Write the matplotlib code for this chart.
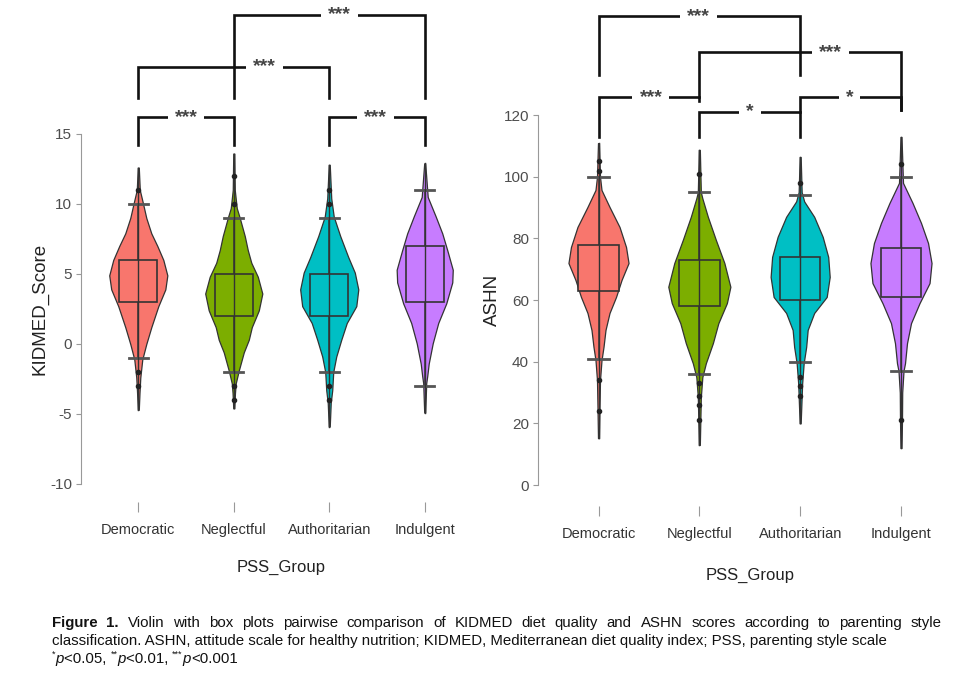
import matplotlib
matplotlib.use("Agg")
import matplotlib.pyplot as plt
from matplotlib import font_manager
import numpy as np

installed = {f.name for f in font_manager.fontManager.ttflist}
narrow = "Liberation Sans Narrow" if "Liberation Sans Narrow" in installed else "Liberation Sans"
plt.rcParams["font.family"] = [narrow, "DejaVu Sans"]

groups = ["Democratic", "Neglectful", "Authoritarian", "Indulgent"]
colors = ["#F8766D", "#7CAE00", "#00BFC4", "#C77CFF"]

# violin outlines: score value and half width (pixels)
kid_vy = [
    [-4.7, -3.5, -2.4, -1.1, 0.0, 1.2, 2.7, 3.9, 4.9, 6.0, 7.0, 7.9, 9.0, 10.1, 11.0, 12.6],
    [-4.6, -3.5, -2.8, -1.9, -0.6, 0.3, 1.2, 2.4, 3.6, 4.8, 5.8, 6.7, 7.7, 9.0, 9.7, 11.0, 13.6],
    [-5.9, -4.2, -3.3, -2.0, -0.9, 0.3, 1.5, 2.7, 3.9, 5.1, 6.2, 7.7, 9.1, 10.4, 12.8],
    [-4.9, -2.8, -2.3, -1.4, 0.05, 1.5, 2.9, 4.4, 5.3, 6.7, 7.9, 9.1, 10.5, 12.9],
]
kid_vw = [
    [0.5, 1.2, 2, 4, 8, 13, 20, 27, 29, 25, 19, 13, 8, 4.5, 1.5, 0.5],
    [0.5, 1.2, 2, 5, 10, 15, 18, 25, 28.5, 24, 17.5, 14, 11, 6, 3, 1, 0.5],
    [0.5, 1.5, 3, 4, 7, 12, 17.5, 27, 29, 25.5, 19, 11, 4.5, 2, 0.5],
    [0.5, 1.5, 2.5, 4, 8, 13.5, 21.5, 27.5, 28, 22.5, 17.5, 11, 3, 0.5],
]
# whisker low, q1, median, q3, whisker high
kid_box = [(-1, 3, 5, 6, 10), (-2, 2, 3, 5, 9), (-2, 2, 4, 5, 9), (-3, 3, 5, 7, 11)]
kid_out = [[-3, -2, 11], [-4, -3, 10, 12], [-4, -3, 10, 11], []]
# x1, x2, bracket top, tip 1, tip 2, label, label x
kid_sig = [
    (1, 2, 16.2, 14.2, 14.2, "***", 1.5),
    (3, 4, 16.2, 14.2, 14.2, "***", 3.48),
    (1, 3, 19.8, 17.6, 17.6, "***", 2.32),
    (2, 4, 23.5, 17.6, 17.6, "***", 3.11),
]

ashn_vy = [
    [15.2, 25, 34, 40.5, 44.8, 50.3, 55.8, 61.0, 66.5, 72.0, 77.2, 83.7, 90.2, 95.7, 100, 110.9],
    [13, 28.5, 35, 39.5, 46, 52.5, 59, 64.3, 72, 79.5, 87, 93, 95, 108.7],
    [20, 33, 39.5, 44.8, 50.3, 55.8, 61, 67.5, 74, 80.5, 87, 92, 95, 106.4],
    [12, 21, 30, 37, 39.5, 46, 52.5, 59, 65.5, 72, 78.5, 85, 91.5, 98, 112.9],
]
ashn_vw = [
    [0.5, 1, 1.5, 3, 5, 7, 11, 17.5, 23, 30, 27.5, 21, 11, 3, 1.5, 0.5],
    [0.5, 1.5, 3, 6.5, 13.5, 19, 27.5, 31, 25, 16.5, 8.5, 3, 1.5, 0.5],
    [0.5, 2, 3.5, 6, 7.5, 14, 26.5, 29.5, 28, 22.5, 14, 4, 1.5, 0.5],
    [0.5, 1, 1.2, 2.5, 4, 6, 10, 18.5, 28.5, 30.5, 27, 20, 11.5, 2, 0.5],
]
ashn_box = [(41, 63, 71, 78, 100), (36, 58, 65, 73, 95), (40, 60, 67, 74, 94), (37, 61, 70, 77, 100)]
ashn_out = [[24, 34, 102, 105], [21, 26, 29, 33, 101], [29, 32, 35, 98], [21, 104]]
ashn_sig = [
    (1, 3, 152, 133, 133, "***", 1.99),
    (2, 4, 140.4, 125.8, 121.6, "***", 3.3),
    (1, 2, 125.8, 112.9, 124.5, "***", 1.52),
    (2, 3, 121, 112.9, 112.9, "*", 2.5),
    (3, 4, 125.8, 121, 121.6, "*", 3.49),
]

W, H = 972, 677
fig = plt.figure(figsize=(W / 100, H / 100), dpi=100)
ax1 = fig.add_axes([81 / W, 1 - 495 / H, 401 / W, 494 / H])
ax2 = fig.add_axes([538 / W, 1 - 495 / H, 423.5 / W, 494 / H])


def draw_panel(ax, vy, vw, box, out, sig, px, ylim, ybounds, yticks, ylabel, ylab_x,
               xlab_y, outward):
    for i, c in enumerate(colors):
        x = i + 1
        y = np.array(vy[i])
        hw = np.array(vw[i]) / px
        ax.fill_betweenx(y, x - hw, x + hw, facecolor=c, edgecolor="#333333", lw=0.9, zorder=2)
    stats = [dict(whislo=b[0], q1=b[1], med=b[2], q3=b[3], whishi=b[4], fliers=[]) for b in box]
    bp = ax.bxp(stats, positions=[1, 2, 3, 4], widths=0.4, capwidths=0.2, patch_artist=True,
                showfliers=False, manage_ticks=False,
                boxprops=dict(edgecolor="#333333", lw=1.2),
                medianprops=dict(color="#222222", lw=2.6),
                whiskerprops=dict(color="#333333", lw=1.1),
                capprops=dict(color="#555555", lw=2.0))
    for patch, c in zip(bp["boxes"], colors):
        patch.set_facecolor(c)
        patch.set_zorder(3)
    for i in range(4):
        x = i + 1
        ax.plot([x, x], [vy[i][0], vy[i][-1]], color="#333333", lw=1.0, zorder=4)
        ax.plot([x] * len(out[i]), out[i], "o", ms=3.0, color="#222222", zorder=5)
    for x1, x2, top, t1, t2, lab, lx in sig:
        ax.plot([x1, x1, x2, x2], [t1, top, top, t2], color="#111111", lw=1.9,
                solid_joinstyle="miter", zorder=6, clip_on=False)
        ax.text(lx, top, lab, ha="center", va="center", fontsize=14, color="#444444",
                fontweight="bold", family="Liberation Sans", zorder=7,
                bbox=dict(facecolor="white", edgecolor="none", pad=5))
    ax.set_xlim(0.4, 4.6)
    ax.set_ylim(*ylim)
    for s in ["top", "right"]:
        ax.spines[s].set_visible(False)
    ax.spines["bottom"].set_position(("outward", outward))
    ax.spines["bottom"].set_visible(False)
    ax.spines["left"].set_bounds(*ybounds)
    ax.spines["left"].set_color("#999999")
    ax.spines["left"].set_linewidth(0.8)
    ax.set_yticks(yticks)
    ax.set_yticklabels([str(t) for t in yticks])
    ax.set_xticks([1, 2, 3, 4])
    ax.set_xticklabels(groups)
    ax.tick_params(axis="y", length=3.5, width=0.8, color="#999999", labelsize=11,
                   labelcolor="#4d4d4d", pad=3)
    ax.tick_params(axis="x", length=7, width=0.8, color="#999999", labelsize=10.5,
                   labelcolor="#333333", pad=8)
    ax.text(0.5, xlab_y, "PSS_Group", transform=ax.transAxes, ha="center", va="center",
            fontsize=12, color="#222222")
    ax.text(ylab_x, sum(ybounds) / 2, ylabel, transform=ax.get_yaxis_transform(),
            rotation=90, ha="center", va="center", fontsize=13.5, color="#222222",
            family="Liberation Sans")
    ax.patch.set_alpha(0)


draw_panel(ax1, kid_vy, kid_vw, kid_box, kid_out, kid_sig, 95.3,
           (-10.79, 24.5), (-10, 15), [-10, -5, 0, 5, 10, 15], "KIDMED_Score",
           (40 - 81) / 401, (495 - 567) / 494, 5)
draw_panel(ax2, ashn_vy, ashn_vw, ashn_box, ashn_out, ashn_sig, 100.7,
           (-3.24, 157), (0, 120), [0, 20, 40, 60, 80, 100, 120], "ASHN",
           (492 - 538) / 423.5, (495 - 575) / 494, 8)

# caption
renderer = fig.canvas.get_renderer()
cap_size = 10.8


def justified(words, weights, ypx, x0, x1):
    objs = [fig.text(0, 1 - ypx / H, w, fontsize=cap_size, fontweight=wt, va="center",
                     color="#111111") for w, wt in zip(words, weights)]
    widths = [o.get_window_extent(renderer).width for o in objs]
    gap = (x1 - x0 - sum(widths)) / (len(objs) - 1)
    x = x0
    for o, wd in zip(objs, widths):
        o.set_x(x / W)
        x += wd + gap


def pieces(parts, ypx, x0):
    x = x0
    for txt, small, style in parts:
        size = cap_size * 0.6 if small else cap_size
        dy = 5 if small else 0
        t = fig.text(x / W, 1 - (ypx - dy) / H, txt, fontsize=size, fontstyle=style,
                     va="center", color="#111111")
        x += t.get_window_extent(renderer).width


line1 = "Figure 1. Violin with box plots pairwise comparison of KIDMED diet quality and ASHN scores according to parenting style".split()
justified(line1, ["bold", "bold"] + ["normal"] * (len(line1) - 2), 623, 52, 942)
fig.text(52 / W, 1 - 641 / H,
         "classification. ASHN, attitude scale for healthy nutrition; KIDMED, Mediterranean diet quality index; PSS, parenting style scale",
         fontsize=cap_size, va="center", color="#111111")
pieces([("*", True, "normal"), ("p", False, "italic"), ("<0.05, ", False, "normal"),
        ("**", True, "normal"), ("p", False, "italic"), ("<0.01, ", False, "normal"),
        ("***", True, "normal"), ("p", False, "italic"), ("<0.001", False, "normal")],
       659, 52)

fig.savefig("out.png", dpi=100)
